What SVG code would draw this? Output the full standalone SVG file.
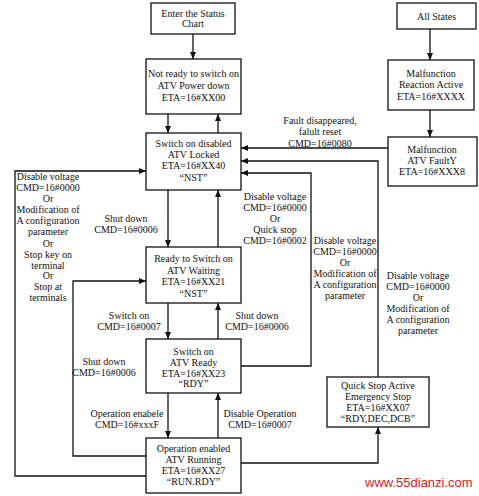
<svg xmlns="http://www.w3.org/2000/svg" width="479" height="496" viewBox="0 0 479 496">
<defs>
<style>
.box{fill:#fff;stroke:#111;stroke-width:1.3}
.sh{fill:#777}
text{font-family:"Liberation Serif","Times New Roman",serif;font-size:10px;fill:#111;text-anchor:middle}
.ln{fill:none;stroke:#111;stroke-width:1.3}
.wm{font-family:"Liberation Sans",Arial,sans-serif;font-size:13px;fill:#d62020;text-anchor:start}
</style>
<marker id="ah" markerUnits="userSpaceOnUse" markerWidth="8" markerHeight="6" refX="7" refY="3" orient="auto">
<path d="M0,0 L7,3 L0,6 z" fill="#111"/>
</marker>
</defs>
<rect width="479" height="496" fill="#fff"/>

<g id="connectors">
<path class="ln" marker-end="url(#ah)" d="M193,34 V59"/>
<path class="ln" marker-end="url(#ah)" d="M168,114 V133"/>
<path class="ln" marker-end="url(#ah)" d="M218,133 V114"/>
<path class="ln" marker-end="url(#ah)" d="M168,190 V247"/>
<path class="ln" marker-end="url(#ah)" d="M218,247 V190"/>
<path class="ln" marker-end="url(#ah)" d="M168,303 V339"/>
<path class="ln" marker-end="url(#ah)" d="M218,339 V303"/>
<path class="ln" marker-end="url(#ah)" d="M168,393 V438"/>
<path class="ln" marker-end="url(#ah)" d="M218,438 V393"/>
<path class="ln" marker-end="url(#ah)" d="M430,29 V60"/>
<path class="ln" marker-end="url(#ah)" d="M430,110 V137"/>
<path class="ln" marker-end="url(#ah)" d="M388,148 H241"/>
<path class="ln" marker-end="url(#ah)" d="M378,377 V161 H241"/>
<path class="ln" marker-end="url(#ah)" d="M241,366 H311 V173 H241"/>
<path class="ln" marker-end="url(#ah)" d="M241,463 H378 V427"/>
<path class="ln" marker-end="url(#ah)" d="M146,476 H15 V171 H146"/>
<path class="ln" marker-end="url(#ah)" d="M146,456 H73 V281 H146"/>
<text x="320" y="123.5">Fault disappeared,</text>
<text x="320" y="134.5">falult reset</text>
<text x="320" y="146.5">CMD=16#0080</text>
<text x="48" y="179.5">Disable voltage</text>
<text x="48" y="190.5">CMD=16#0000</text>
<text x="48" y="201.5">Or</text>
<text x="48" y="212.5">Modification of</text>
<text x="48" y="224">A configuration</text>
<text x="48" y="235">parameter</text>
<text x="48" y="246.5">Or</text>
<text x="48" y="257.5">Stop key on</text>
<text x="48" y="268.5">terminal</text>
<text x="48" y="278.5">Or</text>
<text x="48" y="289.5">Stop at</text>
<text x="48" y="300.5">terminals</text>
<text x="126" y="221.5">Shut down</text>
<text x="126" y="232.5">CMD=16#0006</text>
<text x="275" y="199.5">Disable voltage</text>
<text x="275" y="210.5">CMD=16#0000</text>
<text x="275" y="221.5">Or</text>
<text x="275" y="232.5">Quick stop</text>
<text x="275" y="243.5">CMD=16#0002</text>
<text x="345" y="244">Disable voltage</text>
<text x="345" y="255">CMD=16#0000</text>
<text x="345" y="266">Or</text>
<text x="345" y="277">Modification of</text>
<text x="345" y="288">A configuration</text>
<text x="345" y="299">parameter</text>
<text x="418" y="278.5">Disable voltage</text>
<text x="418" y="289.5">CMD=16#0000</text>
<text x="418" y="300.5">Or</text>
<text x="418" y="311.5">Modification of</text>
<text x="418" y="322.5">A configuration</text>
<text x="418" y="333.5">parameter</text>
<text x="129" y="318.5">Switch on</text>
<text x="129" y="329.5">CMD=16#0007</text>
<text x="257" y="318.5">Shut down</text>
<text x="257" y="329.5">CMD=16#0006</text>
<text x="104" y="364.5">Shut down</text>
<text x="104" y="375.5">CMD=16#0006</text>
<text x="127" y="416.5">Operation enabele</text>
<text x="127" y="427.5">CMD=16#xxxF</text>
<text x="260" y="416.5">Disable Operation</text>
<text x="260" y="427.5">CMD=16#0007</text>
</g>

<g id="enter">
<rect class="box" x="151" y="3" width="84" height="31"/>
<text x="193" y="16.5">Enter the Status</text>
<text x="193" y="26.5">Chart</text>
</g>
<g id="not-ready">
<rect class="box" x="146" y="59" width="95" height="55"/>
<text x="193.5" y="77">Not ready to switch on</text>
<text x="193.5" y="89">ATV Power down</text>
<text x="193.5" y="101">ETA=16#XX00</text>
</g>
<g id="switch-on-disabled">
<rect class="box" x="146" y="133" width="95" height="57"/>
<text x="193.5" y="146.5">Switch on disabled</text>
<text x="193.5" y="157.5">ATV Locked</text>
<text x="193.5" y="168.5">ETA=16#XX40</text>
<text x="193.5" y="180.5">“NST”</text>
</g>
<g id="ready">
<rect class="box" x="146" y="247" width="95" height="56"/>
<text x="193.5" y="261.5">Ready to Switch on</text>
<text x="193.5" y="273.5">ATV Waiting</text>
<text x="193.5" y="284.5">ETA=16#XX21</text>
<text x="193.5" y="296.5">“NST”</text>
</g>
<g id="switched-on">
<rect class="box" x="146" y="339" width="95" height="54"/>
<text x="193.5" y="354.5">Switch on</text>
<text x="193.5" y="365.5">ATV Ready</text>
<text x="193.5" y="376.5">ETA=16#XX23</text>
<text x="193.5" y="386.5">“RDY”</text>
</g>
<g id="operation-enabled">
<rect class="box" x="146" y="438" width="95" height="55"/>
<text x="193.5" y="451.5">Operation enabled</text>
<text x="193.5" y="462.5">ATV Running</text>
<text x="193.5" y="473.5">ETA=16#XX27</text>
<text x="193.5" y="484.5">“RUN.RDY”</text>
</g>
<g id="all-states">
<rect class="box" x="397" y="3" width="79" height="26"/>
<text x="436.5" y="19.5">All States</text>
</g>
<g id="malfunction-reaction">
<rect class="box" x="388" y="60" width="86" height="50"/>
<text x="431" y="76.5">Malfunction</text>
<text x="431" y="87.5">Reaction Active</text>
<text x="431" y="99.5">ETA=16#XXXX</text>
</g>
<g id="malfunction-fault">
<rect class="box" x="388" y="137" width="89" height="49"/>
<text x="432" y="152.5">Malfunction</text>
<text x="432" y="163.5">ATV FaultY</text>
<text x="432" y="174.5">ETA=16#XXX8</text>
</g>
<g id="quick-stop">
<rect class="box" x="327" y="377" width="102" height="50"/>
<text x="378" y="388.5">Quick Stop Active</text>
<text x="378" y="399.5">Emergency Stop</text>
<text x="378" y="410.5">ETA=16#XX07</text>
<text x="378" y="421.5">“RDY,DEC,DCB”</text>
</g>
<text class="wm" x="365" y="487">www.55dianzi.com</text>
</svg>
